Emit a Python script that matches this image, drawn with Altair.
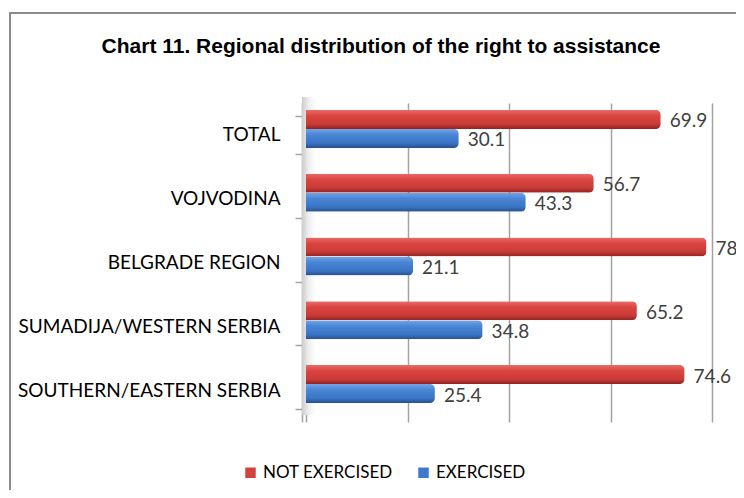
import altair as alt
import pandas as pd

regions = ["TOTAL", "VOJVODINA", "BELGRADE REGION", "SUMADIJA/WESTERN SERBIA", "SOUTHERN/EASTERN SERBIA"]
not_exercised = [69.9, 56.7, 78.9, 65.2, 74.6]
exercised = [30.1, 43.3, 21.1, 34.8, 25.4]
series = ["NOT EXERCISED", "EXERCISED"]
grid_ticks = [0, 20, 40, 60, 80]
title_text = "Chart 11. Regional distribution of the right to assistance"

rows = []
for r, ne, ex in zip(regions, not_exercised, exercised):
    rows.append({"region": r, "series": series[0], "value": ne})
    rows.append({"region": r, "series": series[1], "value": ex})
df = pd.DataFrame(rows)
one = pd.DataFrame({"k": [0]})

# layout (pixels)
W, H = 406, 319
GRID = "#a3a3a3"
FONT = "Lato"
BAR_H = 19
FRONT_X = -4
BACK_X = 10

x_scale = alt.Scale(domain=[0, 80], nice=False, zero=True)
y_scale = alt.Scale(domain=regions, paddingInner=0.4, paddingOuter=0.2)

red_grad = alt.Gradient(gradient="linear", x1=0, y1=0, x2=0, y2=1, stops=[
    alt.GradientStop(color="#ea6b66", offset=0),
    alt.GradientStop(color="#da4641", offset=0.3),
    alt.GradientStop(color="#c93a36", offset=0.75),
    alt.GradientStop(color="#8e2422", offset=1)])
blue_grad = alt.Gradient(gradient="linear", x1=0, y1=0, x2=0, y2=1, stops=[
    alt.GradientStop(color="#72a5e6", offset=0),
    alt.GradientStop(color="#4a86d6", offset=0.3),
    alt.GradientStop(color="#3b74c4", offset=0.75),
    alt.GradientStop(color="#264f8c", offset=1)])
wall_grad = alt.Gradient(gradient="linear", x1=0, y1=0, x2=1, y2=0, stops=[
    alt.GradientStop(color="#cdcdcd", offset=0),
    alt.GradientStop(color="#f0f0f0", offset=0.5),
    alt.GradientStop(color="#ffffff", offset=1)])

frame = alt.Chart(one).mark_rect(fillOpacity=0, stroke="#8c8c8c", strokeWidth=2).encode(
    x=alt.value(-296), x2=alt.value(1200), y=alt.value(-90), y2=alt.value(1200))

title = alt.Chart(one).mark_text(text=title_text, font="Liberation Sans Narrow, Liberation Sans",
                                 fontSize=21, fontWeight="bold", align="center",
                                 baseline="alphabetic", color="#000000").encode(
    x=alt.value(75), y=alt.value(-50))

wall = alt.Chart(one).mark_rect(fill=wall_grad).encode(
    x=alt.value(FRONT_X), x2=alt.value(BACK_X), y=alt.value(-6), y2=alt.value(H - 7))

y_enc = alt.Y("region:N", scale=y_scale, sort=regions, axis=alt.Axis(
    title=None, offset=-FRONT_X, tickBand="extent", tickSize=7, tickColor=GRID, tickWidth=1.5,
    domainColor=GRID, domainWidth=1.5, labelFont=FONT, labelFontSize=19, labelColor="#000000",
    labelPadding=15, labelLimit=400, grid=False))
x_enc = alt.X("value:Q", scale=x_scale, axis=alt.Axis(
    values=grid_ticks, grid=True, gridColor=GRID, gridWidth=1.5, labels=False, ticks=False,
    domain=False, title=None))

legend_layer = alt.Chart(df).mark_square(opacity=0).encode(
    x=x_enc, y=y_enc,
    color=alt.Color("series:N", sort=series,
                    scale=alt.Scale(domain=series, range=["#d4423e", "#3d7acb"]),
                    legend=alt.Legend(orient="none", legendX=-64, legendY=361, direction="horizontal",
                                      title=None, symbolType="square", symbolSize=110,
                                      symbolOpacity=1, symbolStrokeWidth=0, labelFont=FONT,
                                      labelFontSize=17, labelColor="#000000", columnPadding=22,
                                      labelOffset=4, padding=0)))

red_off = -6 - BAR_H / 2
blue_off = -6 + BAR_H / 2

layers = [frame, title, wall, legend_layer]
for s, fill, off in [(series[0], red_grad, red_off), (series[1], blue_grad, blue_off)]:
    layers.append(alt.Chart(df).transform_filter(alt.datum.series == s).mark_bar(
        cornerRadiusEnd=5, fill=fill, height=BAR_H, yOffset=off).encode(x=x_enc, y=y_enc))
for s, off in [(series[0], red_off), (series[1], blue_off)]:
    layers.append(alt.Chart(df).transform_filter(alt.datum.series == s).mark_text(
        align="left", baseline="middle", dx=9, yOffset=off + 2, font=FONT,
        fontSize=19, color="#404040").encode(x=x_enc, y=y_enc, text=alt.Text("value:Q", format=".1f")))

chart = alt.layer(*layers).properties(
    width=W, height=H,
    autosize=alt.AutoSizeParams(type="none"),
    padding={"left": 298, "top": 95, "right": 24, "bottom": 68},
).configure_view(strokeWidth=0)

chart.save("out.html", embed_options={"renderer": "svg", "actions": False})
